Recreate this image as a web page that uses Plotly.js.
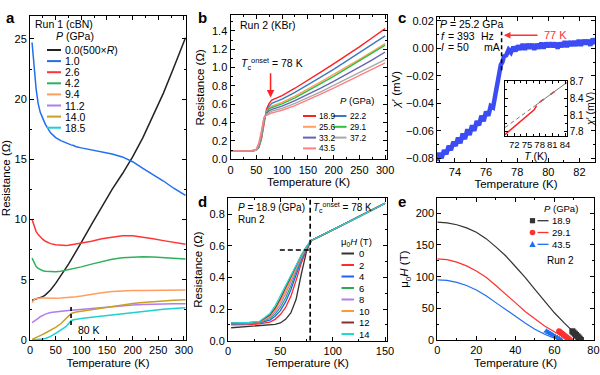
<!DOCTYPE html>
<html><head><meta charset="utf-8">
<script src="https://cdn.plot.ly/plotly-3.0.1.min.js"></script>
<style>body{margin:0;background:#fff}#chart{width:600px;height:375px}</style>
</head><body><div id="chart"></div>
<script>
// ---------- Panel a (Run 1, cBN) ----------
const aT = [4, 8, 12, 16, 20, 25, 30, 40, 50, 60, 70, 75, 80, 85, 90, 100, 120, 140, 160, 180, 200, 220, 240, 260, 280, 303];
const aLabels = ['0.0(500×<i>R</i>)', '1.0', '2.6', '4.2', '9.4', '11.2', '14.0', '18.5'];
const aColors = ['#222222', '#1f6ff0', '#ff3535', '#2fb05a', '#ff9e5e', '#b07cf0', '#c9a020', '#20d0d0'];
const aR00 = [3.3, 3.35, 3.4, 3.45, 3.5, 3.6, 3.75, 4.15, 4.7, 5.3, 5.95, 6.3, 6.65, 7.0, 7.4, 8.1, 9.6, 11.1, 12.5, 13.8, 15.2, 16.8, 18.6, 20.5, 22.6, 25.1];
const aR10 = [24.7, 22.5, 20.8, 19.6, 18.9, 18.4, 17.9, 17.2, 16.8, 16.55, 16.35, 16.3, 16.2, 16.15, 16.05, 15.95, 15.8, 15.65, 15.45, 15.2, 14.8, 14.25, 13.75, 13.2, 12.6, 12.0];
const aR26 = [10.0, 9.4, 9.0, 8.75, 8.55, 8.35, 8.2, 8.0, 7.9, 7.85, 7.85, 7.87, 7.9, 7.93, 7.97, 8.05, 8.2, 8.4, 8.55, 8.65, 8.65, 8.55, 8.4, 8.25, 8.1, 7.95];
const aR42 = [6.8, 6.4, 6.1, 5.95, 5.85, 5.75, 5.7, 5.67, 5.67, 5.7, 5.78, 5.82, 5.87, 5.92, 5.97, 6.07, 6.3, 6.52, 6.7, 6.83, 6.9, 6.92, 6.9, 6.85, 6.78, 6.72];
const aR94 = [3.1, 3.35, 3.45, 3.48, 3.48, 3.48, 3.47, 3.47, 3.47, 3.48, 3.5, 3.52, 3.54, 3.56, 3.59, 3.65, 3.8, 3.93, 4.02, 4.08, 4.1, 4.12, 4.13, 4.14, 4.15, 4.15];
const aR112 = [1.45, 1.55, 1.68, 1.8, 1.93, 2.05, 2.15, 2.28, 2.35, 2.4, 2.43, 2.45, 2.47, 2.49, 2.51, 2.55, 2.63, 2.71, 2.78, 2.85, 2.9, 2.94, 2.97, 2.99, 3.0, 3.0];
const aR140 = [0.05, 0.12, 0.2, 0.28, 0.37, 0.47, 0.58, 0.8, 1.05, 1.35, 1.72, 1.98, 2.2, 2.28, 2.32, 2.38, 2.52, 2.66, 2.8, 2.92, 3.03, 3.12, 3.2, 3.26, 3.31, 3.35];
const aR185 = [0.0, 0.01, 0.02, 0.03, 0.05, 0.08, 0.13, 0.3, 0.55, 0.8, 1.1, 1.35, 1.6, 1.68, 1.72, 1.78, 1.88, 1.98, 2.08, 2.18, 2.28, 2.38, 2.47, 2.55, 2.62, 2.68];
const aSeries = [aR00, aR10, aR26, aR42, aR94, aR112, aR140, aR185];

// ---------- Panel b (Run 2, KBr) ----------
const bT = [2, 10, 20, 30, 40, 50, 55, 60, 65, 70, 75, 80, 90, 100, 125, 150, 175, 200, 225, 250, 275, 300];
const bLabels = ['18.9', '22.2', '25.6', '29.1', '33.2', '37.2', '43.5'];
const bColors = ['#ff2020', '#3d78c0', '#ffa060', '#2ec040', '#6464b4', '#a8a8a8', '#ff8080'];
const bR189 = [0.09, 0.09, 0.09, 0.09, 0.092, 0.10, 0.13, 0.22, 0.40, 0.55, 0.61, 0.645, 0.67, 0.695, 0.775, 0.86, 0.95, 1.04, 1.13, 1.225, 1.325, 1.425];
const bR222 = [0.09, 0.09, 0.09, 0.09, 0.092, 0.10, 0.13, 0.23, 0.41, 0.53, 0.58, 0.61, 0.63, 0.655, 0.73, 0.81, 0.895, 0.98, 1.07, 1.16, 1.25, 1.345];
const bR256 = [0.09, 0.09, 0.09, 0.09, 0.092, 0.10, 0.14, 0.24, 0.42, 0.52, 0.56, 0.58, 0.60, 0.62, 0.69, 0.765, 0.845, 0.925, 1.005, 1.09, 1.175, 1.262];
const bR291 = [0.09, 0.09, 0.09, 0.09, 0.092, 0.10, 0.14, 0.25, 0.43, 0.51, 0.55, 0.565, 0.585, 0.605, 0.67, 0.745, 0.825, 0.905, 0.99, 1.075, 1.16, 1.244];
const bR332 = [0.09, 0.09, 0.09, 0.09, 0.092, 0.10, 0.15, 0.27, 0.44, 0.50, 0.53, 0.545, 0.56, 0.58, 0.64, 0.705, 0.775, 0.85, 0.925, 1.005, 1.085, 1.17];
const bR372 = [0.09, 0.09, 0.09, 0.09, 0.092, 0.10, 0.16, 0.28, 0.45, 0.49, 0.51, 0.525, 0.54, 0.555, 0.61, 0.67, 0.735, 0.805, 0.875, 0.945, 1.015, 1.088];
const bR435 = [0.09, 0.09, 0.09, 0.09, 0.093, 0.11, 0.18, 0.31, 0.46, 0.48, 0.495, 0.505, 0.52, 0.535, 0.585, 0.645, 0.71, 0.775, 0.845, 0.915, 0.985, 1.052];
const bSeries = [bR189, bR222, bR256, bR291, bR332, bR372, bR435];

// ---------- Panel c (ac susceptibility, 25.2 GPa) ----------
const cT = [72.85, 73.0, 73.15, 73.3, 73.45, 73.6, 73.75, 73.9, 74.05, 74.2, 74.35, 74.5, 74.65, 74.8, 74.95, 75.1, 75.25, 75.4, 75.55, 75.7, 75.85, 76.0, 76.15, 76.3, 76.45, 76.55, 76.65, 76.75, 76.85, 76.95, 77.05, 77.15, 77.3, 77.45, 77.6, 77.75, 77.9, 78.05, 78.2, 78.35, 78.5, 78.65, 78.8, 78.95, 79.1, 79.25, 79.4, 79.55, 79.7, 79.85, 80.0, 80.15, 80.3, 80.45, 80.6, 80.75, 80.9, 81.05, 81.2, 81.35, 81.5, 81.65, 81.8, 81.95, 82.1, 82.25, 82.4, 82.55, 82.7, 82.85, 83.0];
const cV = [-0.082, -0.076, -0.080, -0.074, -0.077, -0.071, -0.074, -0.068, -0.071, -0.065, -0.069, -0.062, -0.066, -0.059, -0.063, -0.056, -0.060, -0.053, -0.056, -0.049, -0.053, -0.046, -0.049, -0.042, -0.043, -0.036, -0.028, -0.021, -0.016, -0.012, -0.010, -0.006, -0.005, -0.001, -0.003, 0.001, -0.002, 0.002, -0.001, 0.003, -0.001, 0.003, 0.000, 0.003, -0.001, 0.003, 0.000, 0.004, 0.000, 0.004, 0.001, 0.004, 0.001, 0.004, 0.000, 0.004, 0.001, 0.005, 0.001, 0.005, 0.002, 0.005, 0.002, 0.006, 0.002, 0.006, 0.003, 0.006, 0.002, 0.007, 0.003];
// inset
const ciT = [69.8, 71, 72, 73, 74, 75, 76, 76.7, 77.3, null, 78, 79, null, 80.5, 81.5, null, 84, 84.4];
const ciV = [7.75, 7.83, 7.89, 7.955, 8.02, 8.085, 8.15, 8.195, 8.27, null, 8.33, 8.385, null, 8.465, 8.52, null, 8.66, 8.68];
const ciFitDashT = [69.8, 77];
const ciFitDashV = [7.876, 8.272];
const ciFitT = [77, 84.4];
const ciFitV = [8.272, 8.68];

// ---------- Panel d (field dependence, 18.9 GPa) ----------
const dT = [3, 10, 20, 30, 40, 45, 50, 55, 60, 65, 70, 75, 78, 80, 90, 100, 110, 120, 130, 140, 150];
const dLabels = ['0', '2', '4', '6', '8', '10', '12', '14'];
const dColors = ['#333333', '#ff2a2a', '#2060ff', '#2eaa55', '#b080ee', '#ff9a30', '#8b3030', '#20d8d8'];
const dR0 = [0.082, 0.085, 0.088, 0.092, 0.098, 0.103, 0.112, 0.135, 0.175, 0.26, 0.42, 0.565, 0.612, 0.635, 0.667, 0.70, 0.733, 0.767, 0.80, 0.834, 0.868];
const dR2 = [0.100, 0.100, 0.102, 0.106, 0.118, 0.135, 0.165, 0.21, 0.28, 0.38, 0.49, 0.575, 0.615, 0.635, 0.667, 0.70, 0.733, 0.767, 0.80, 0.834, 0.868];
const dR4 = [0.106, 0.106, 0.108, 0.112, 0.13, 0.155, 0.19, 0.245, 0.32, 0.415, 0.51, 0.583, 0.618, 0.635, 0.667, 0.70, 0.733, 0.767, 0.80, 0.834, 0.868];
const dR6 = [0.108, 0.108, 0.110, 0.115, 0.14, 0.168, 0.21, 0.27, 0.345, 0.435, 0.52, 0.587, 0.62, 0.635, 0.667, 0.70, 0.733, 0.767, 0.80, 0.834, 0.868];
const dR8 = [0.110, 0.110, 0.112, 0.117, 0.148, 0.182, 0.23, 0.295, 0.37, 0.452, 0.528, 0.589, 0.621, 0.635, 0.667, 0.70, 0.733, 0.767, 0.80, 0.834, 0.868];
const dR10 = [0.111, 0.111, 0.113, 0.119, 0.155, 0.195, 0.25, 0.315, 0.39, 0.465, 0.535, 0.592, 0.622, 0.635, 0.667, 0.70, 0.733, 0.767, 0.80, 0.834, 0.868];
const dR12 = [0.112, 0.112, 0.114, 0.12, 0.163, 0.205, 0.265, 0.335, 0.405, 0.475, 0.54, 0.594, 0.623, 0.635, 0.667, 0.70, 0.733, 0.767, 0.80, 0.834, 0.868];
const dR14 = [0.113, 0.113, 0.115, 0.122, 0.172, 0.22, 0.285, 0.35, 0.415, 0.483, 0.54, 0.595, 0.625, 0.635, 0.667, 0.70, 0.733, 0.767, 0.80, 0.834, 0.868];
const dSeries = [dR0, dR2, dR4, dR6, dR8, dR10, dR12, dR14];

// ---------- Panel e (upper critical field) ----------
const eLabels = ['18.9', '29.1', '43.5'];
const eColors = ['#333333', '#ff3030', '#1f6ff0'];
const eSymbols = ['square', 'circle', 'triangle-up'];
const eFitT189 = [0, 5, 10, 15, 20, 25, 30, 35, 40, 45, 50, 55, 60, 65, 70, 74];
const eFitH189 = [186, 185, 182, 177, 170, 160, 147, 133, 116, 99, 80, 61, 43, 27, 12, 0];
const eFitT291 = [0, 5, 10, 15, 20, 25, 30, 35, 40, 45, 50, 55, 60, 65, 68];
const eFitH291 = [128, 127, 123, 117, 109, 99, 86, 73, 59, 45, 33, 22, 13, 4, 0];
const eFitT435 = [0, 5, 10, 15, 20, 25, 30, 35, 40, 45, 50, 55, 60, 63];
const eFitH435 = [95, 94, 91, 86, 79, 70, 59, 48, 37, 27, 17, 9, 3, 0];
const eH = [0, 2, 4, 6, 8, 10, 12, 14];
const eTc189 = [73.6, 73.0, 72.4, 71.8, 71.1, 70.5, 69.8, 69.2];
const eTc291 = [68.0, 67.2, 66.4, 65.6, 64.8, 64.0, 63.2, 62.4];
const eTc435 = [63.5, 62.5, 61.5, 60.3, 59.2, 58.1, 57.0, 56.0];
const eFits = [[eFitT189, eFitH189], [eFitT291, eFitH291], [eFitT435, eFitH435]];
const eTcs = [eTc189, eTc291, eTc435];

// ---------- build ----------
const F = 'Arial, "Liberation Sans", sans-serif';
const W = 600, H = 375;
const px = v => v / W, py = v => 1 - v / H;

const traces = [];
aSeries.forEach((r, i) => traces.push({x: aT, y: r, xaxis: 'x', yaxis: 'y', mode: 'lines', line: {color: aColors[i], width: 1.5}, showlegend: false}));
bSeries.forEach((r, i) => traces.push({x: bT, y: r, xaxis: 'x2', yaxis: 'y2', mode: 'lines', line: {color: bColors[i], width: 1.4}, showlegend: false}));
traces.push({x: cT, y: cV, xaxis: 'x3', yaxis: 'y3', mode: 'lines', line: {color: '#3b4cf5', width: 4.5}, showlegend: false});
traces.push({x: ciFitDashT, y: ciFitDashV, xaxis: 'x4', yaxis: 'y4', mode: 'lines', line: {color: '#777', width: 1, dash: '4px,3px'}, showlegend: false});
traces.push({x: ciT, y: ciV, xaxis: 'x4', yaxis: 'y4', mode: 'lines', line: {color: '#ff2020', width: 1.5}, connectgaps: false, showlegend: false});
traces.push({x: ciFitT, y: ciFitV, xaxis: 'x4', yaxis: 'y4', mode: 'lines', line: {color: '#777', width: 1}, showlegend: false});
dSeries.forEach((r, i) => traces.push({x: dT, y: r, xaxis: 'x5', yaxis: 'y5', mode: 'lines', line: {color: dColors[i], width: 1.3}, showlegend: false}));
eFits.forEach((f, i) => traces.push({x: f[0], y: f[1], xaxis: 'x6', yaxis: 'y6', mode: 'lines', line: {color: eColors[i], width: 1.2}, showlegend: false}));
eTcs.forEach((t, i) => traces.push({x: t, y: eH, xaxis: 'x6', yaxis: 'y6', mode: 'markers', marker: {color: eColors[i], symbol: eSymbols[i], size: 6}, showlegend: false}));

function axis(domain, range, dtick, minorD, extra) {
  return Object.assign({
    domain: domain, range: range, dtick: dtick, tick0: 0, autorange: false,
    showline: true, mirror: 'ticks', linecolor: '#000', linewidth: 1,
    ticks: 'inside', ticklen: 4, tickwidth: 1, tickcolor: '#000', tickangle: 0,
    minor: minorD ? {dtick: minorD, ticks: 'inside', ticklen: 2, tickcolor: '#000', tickwidth: 1} : undefined,
    showgrid: false, zeroline: false,
    tickfont: {family: F, size: 11, color: '#000'}
  }, extra || {});
}
const tfont = {family: F, size: 11.5, color: '#000'};

const layout = {
  width: W, height: H, margin: {l: 0, r: 0, t: 0, b: 0},
  paper_bgcolor: '#fff', plot_bgcolor: '#fff', showlegend: false,
  xaxis: axis([px(30), px(186)], [0, 304], 50, 25, {anchor: 'y', title: {text: 'Temperature (K)', font: tfont, standoff: 3}}),
  yaxis: axis([py(340), py(16)], [0, 26.9], 5, 2.5, {anchor: 'x', title: {text: 'Resistance (Ω)', font: tfont, standoff: 4}}),
  xaxis2: axis([px(230.5), px(386.7)], [0, 303], 50, 25, {anchor: 'y2', title: {text: 'Temperature (K)', font: tfont, standoff: 3}}),
  yaxis2: axis([py(159.3), py(15.3)], [0, 1.57], 0.2, 0.1, {anchor: 'x2', tickformat: '.1f', title: {text: 'Resistance (Ω)', font: tfont, standoff: 4}}),
  xaxis3: axis([px(437), px(595)], [72.85, 83], 2, 1, {anchor: 'y3', title: {text: 'Temperature (K)', font: tfont, standoff: 3}}),
  yaxis3: axis([py(161.7), py(16.7)], [-0.0825, 0.023], 0.02, 0.01, {anchor: 'x3', tickformat: '.2f', title: {text: '<i>χ</i>′ (mV)', font: tfont, standoff: 2}}),
  xaxis4: axis([px(505), px(566.7)], [69.8, 84.4], 3, 1.5, {anchor: 'y4', tickfont: {family: F, size: 9.5, color: '#000'}, ticklen: 3, title: {text: '<i>T</i> (K)', font: {family: F, size: 10.5, color: '#000'}, standoff: 0}}),
  yaxis4: axis([py(135.7), py(81)], [7.73, 8.71], 0.3, 0.15, {anchor: 'x4', side: 'right', tick0: 7.8, tickformat: '.1f', tickfont: {family: F, size: 10, color: '#000'}, ticklen: 3, title: {text: '<i>χ</i>′ (mV)', font: {family: F, size: 10.5, color: '#000'}, standoff: 2}}),
  xaxis5: axis([px(228), px(386.7)], [0, 151.6], 50, 25, {anchor: 'y5', title: {text: 'Temperature (K)', font: tfont, standoff: 3}}),
  yaxis5: axis([py(340.7), py(198.3)], [0, 0.9], 0.2, 0.1, {anchor: 'x5', tickformat: '.1f', title: {text: 'Resistance (Ω)', font: tfont, standoff: 4}}),
  xaxis6: axis([px(437.3), px(594)], [0, 80.3], 20, 10, {anchor: 'y6', title: {text: 'Temperature (K)', font: tfont, standoff: 3}}),
  yaxis6: axis([py(340), py(198.3)], [0, 223.7], 50, 25, {anchor: 'x6', title: {text: 'μ<sub>0</sub><i>H</i> (T)', font: tfont, standoff: 4}}),
  shapes: [], annotations: []
};
const S = layout.shapes, A = layout.annotations;
function txt(x, y, t, o) { A.push(Object.assign({xref: 'paper', yref: 'paper', x: px(x), y: py(y), text: t, showarrow: false, xanchor: 'left', yanchor: 'middle', font: {family: F, size: 10.5, color: '#000'}}, o || {})); }
function lineSample(x0, x1, y, color, w) { S.push({type: 'line', xref: 'paper', yref: 'paper', x0: px(x0), x1: px(x1), y0: py(y), y1: py(y), line: {color: color, width: w || 2}}); }

// panel letters
[['a', 10, 17], ['b', 202, 17], ['c', 402, 17], ['d', 202, 202], ['e', 402, 202]].forEach(l => txt(l[1], l[2], '<b>' + l[0] + '</b>', {xanchor: 'center', font: {family: F, size: 15, color: '#000'}}));

// panel a legend
txt(33, 24, 'Run 1 (cBN)');
txt(54, 36.5, '<i>P</i> (GPa)');
aLabels.forEach((l, i) => { const y = 50 + i * 11.1; lineSample(47, 61, y, aColors[i], 2); txt(62.5, y, l); });
S.push({type: 'line', xref: 'x', yref: 'y', x0: 80, x1: 80, y0: 1.25, y1: 2.9, line: {color: '#000', width: 1.6, dash: '4px,3px'}});
txt(75.5, 330, '80 K');

// panel b
txt(238, 25, 'Run 2 (KBr)');
txt(239, 64, '<i>T</i><sub>c</sub><sup>onset</sup> = 78 K');
A.push({xref: 'x2', yref: 'y2', axref: 'x2', ayref: 'y2', x: 77.7, y: 0.675, ax: 77.7, ay: 0.955, text: '', showarrow: true, arrowhead: 2, arrowsize: 1, arrowwidth: 1.5, arrowcolor: '#ff2020'});
txt(338, 101, '<i>P</i> (GPa)', {font: {family: F, size: 9.5, color: '#000'}});
bLabels.forEach((l, i) => { const col = i % 2, row = Math.floor(i / 2); const x0 = col ? 333.5 : 303; const y = 116 + row * 10.8; lineSample(x0, x0 + 13, y, bColors[i], 2); txt(x0 + 14, y, l, {font: {family: F, size: 8.3, color: '#000'}}); });

// panel c
txt(438, 24, '<i>P</i> = 25.2 GPa');
txt(439, 35.5, '<i>f</i>');
txt(446, 35.5, '= 393');
txt(479, 35.5, 'Hz');
txt(439, 47, '<i>I</i>');
txt(446, 47, '= 50');
txt(482, 47, 'mA');
S.push({type: 'line', xref: 'x3', yref: 'y3', x0: 77, x1: 77, y0: -0.016, y1: 0.012, line: {color: '#000', width: 1.5, dash: '4px,3px'}});
A.push({xref: 'x3', yref: 'y3', axref: 'x3', ayref: 'y3', x: 77.15, y: 0.0095, ax: 79.4, ay: 0.0095, text: '', showarrow: true, arrowhead: 2, arrowsize: 1, arrowwidth: 1.3, arrowcolor: '#ff3030'});
A.push({xref: 'x3', yref: 'y3', x: 79.6, y: 0.0095, text: '77 K', showarrow: false, xanchor: 'left', yanchor: 'middle', font: {family: F, size: 11, color: '#ff3030'}});

// panel d
txt(236, 207, '<i>P</i> = 18.9 (GPa)', {font: {family: F, size: 10, color: '#000'}});
txt(236, 219, 'Run 2', {font: {family: F, size: 10, color: '#000'}});
txt(311, 207, '<i>T</i><sub>c</sub><sup>onset</sup> = 78 K', {font: {family: F, size: 10, color: '#000'}});
S.push({type: 'line', xref: 'x5', yref: 'y5', x0: 78.5, x1: 78.5, y0: 0, y1: 0.9, line: {color: '#000', width: 1.6, dash: '5px,3px'}});
S.push({type: 'line', xref: 'x5', yref: 'y5', x0: 49.5, x1: 78.5, y0: 0.573, y1: 0.573, line: {color: '#000', width: 1.6, dash: '5px,3px'}});
txt(339, 242, 'μ<sub>0</sub><i>H</i> (T)', {font: {family: F, size: 9.5, color: '#000'}});
dLabels.forEach((l, i) => { const y = 253.5 + i * 11.5; lineSample(341.5, 354, y, dColors[i], 2); txt(356.5, y, l, {font: {family: F, size: 9.5, color: '#000'}}); });

// panel e legend
txt(542, 208.5, '<i>P</i> (GPa)', {font: {family: F, size: 9.5, color: '#000'}});
eLabels.forEach((l, i) => {
  const y = 220.7 + i * 11.8, x = 532.5;
  lineSample(537.5, 548.5, y, eColors[i], 1.3);
  txt(550, y, l, {font: {family: F, size: 9.5, color: '#000'}});
  let s;
  if (i === 0) s = {type: 'rect', x0: px(x - 2.6), x1: px(x + 2.6), y0: py(y + 2.6), y1: py(y - 2.6)};
  else if (i === 1) s = {type: 'circle', x0: px(x - 2.8), x1: px(x + 2.8), y0: py(y + 2.8), y1: py(y - 2.8)};
  else s = {type: 'path', path: 'M ' + px(x - 3.2) + ' ' + py(y + 2.6) + ' L ' + px(x + 3.2) + ' ' + py(y + 2.6) + ' L ' + px(x) + ' ' + py(y - 3.2) + ' Z'};
  S.push(Object.assign({xref: 'paper', yref: 'paper', fillcolor: eColors[i], line: {width: 0}}, s));
});
txt(545, 260, 'Run 2', {font: {family: F, size: 10, color: '#000'}});

Plotly.newPlot('chart', traces, layout, {staticPlot: true});
</script></body></html>
